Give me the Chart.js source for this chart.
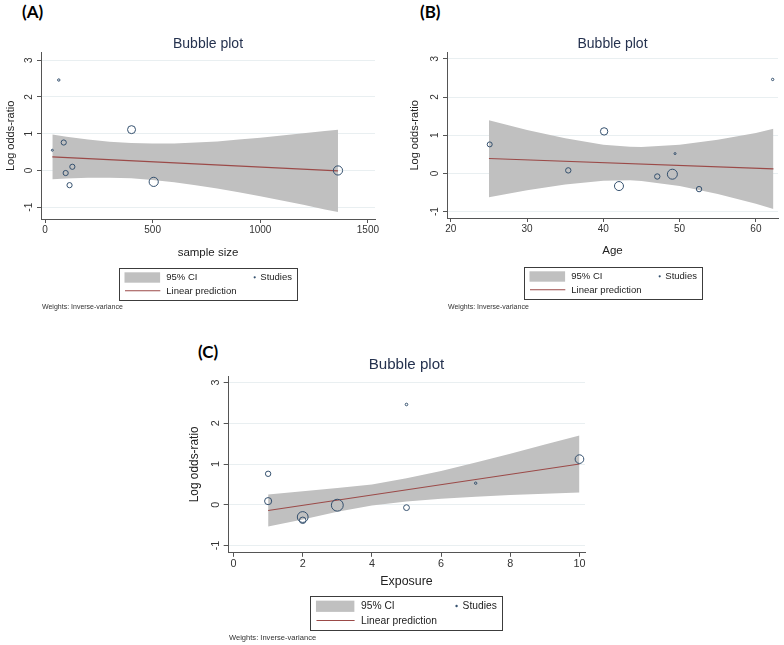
<!DOCTYPE html>
<html>
<head>
<meta charset="utf-8">
<script src="https://cdn.jsdelivr.net/npm/chart.js@4.4.1/dist/chart.umd.min.js"></script>
<style>
  body { margin: 0; background: #fff; width: 784px; height: 645px; position: relative; overflow: hidden; }
  canvas { position: absolute; }
  .tag { position: absolute; font: 700 17px Lato, "Open Sans", sans-serif; line-height: 17px; color: #000; }
</style>
</head>
<body>
<div class="tag" style="left:22px;top:3px">(A)</div>
<div class="tag" style="left:420px;top:3px">(B)</div>
<div class="tag" style="left:198px;top:343px">(C)</div>
<canvas id="chartA" width="390" height="290" style="left:0;top:30px"></canvas>
<canvas id="chartB" width="394" height="290" style="left:390px;top:30px"></canvas>
<canvas id="chartC" width="420" height="305" style="left:180px;top:340px"></canvas>
<script>
// tick labels
const yTicks = [-1, 0, 1, 2, 3];
const xTicksA = [0, 500, 1000, 1500];
const xTicksB = [20, 30, 40, 50, 60];
const xTicksC = [0, 2, 4, 6, 8, 10];

// (A) sample size
const studiesAX = [34, 64, 87, 96, 114, 127, 402, 505, 1361];
const studiesAY = [0.55, 2.46, 0.76, -0.07, -0.40, 0.10, 1.11, -0.31, 0.00];
const weightsA = [1, 1.2, 2.6, 2.6, 2.6, 2.6, 4, 4.6, 4.6];
const lineAX = [34, 1361];
const lineAY = [0.37, -0.01];
const ciAX = [34, 100, 200, 300, 400, 500, 600, 700, 800, 900, 1000, 1100, 1200, 1300, 1361];
const ciAUp = [0.98, 0.92, 0.84, 0.78, 0.75, 0.73, 0.73, 0.76, 0.79, 0.84, 0.89, 0.95, 1.01, 1.07, 1.11];
const ciALo = [-0.24, -0.22, -0.20, -0.20, -0.21, -0.26, -0.32, -0.40, -0.49, -0.59, -0.70, -0.82, -0.93, -1.06, -1.13];

// (B) age
const studiesBX = [25.1, 35.4, 40.1, 42.05, 47.07, 49.05, 49.4, 52.55, 62.2];
const studiesBY = [0.76, 0.08, 1.10, -0.33, -0.08, -0.02, 0.52, -0.41, 2.46];
const weightsB = [2.5, 2.7, 3.7, 4.5, 2.7, 5, 1, 2.7, 1.2];
const lineBX = [25, 62.3];
const lineBY = [0.39, 0.12];
const ciBX = [25, 30, 35, 40, 43.5, 45, 50, 55, 60, 62.3];
const ciBUp = [1.39, 1.14, 0.92, 0.75, 0.70, 0.69, 0.75, 0.88, 1.06, 1.17];
const ciBLo = [-0.62, -0.44, -0.29, -0.19, -0.18, -0.20, -0.33, -0.54, -0.79, -0.93];

// (C) exposure
const studiesCX = [1, 1, 2, 2, 3, 5, 5, 7, 10];
const studiesCY = [0.76, 0.09, -0.30, -0.38, -0.01, 2.46, -0.07, 0.53, 1.12];
const weightsC = [2.5, 3.3, 5, 3, 5.5, 1.2, 2.7, 1.1, 4];
const lineCX = [1, 10];
const lineCY = [-0.14, 1.0];
const ciCX = [1, 2, 3, 4, 5, 6, 7, 8, 9, 10];
const ciCUp = [0.25, 0.33, 0.41, 0.50, 0.65, 0.83, 1.04, 1.25, 1.48, 1.70];
const ciCLo = [-0.53, -0.36, -0.17, -0.02, 0.08, 0.15, 0.20, 0.24, 0.27, 0.30];

const FONT = '"Liberation Sans", Arial, sans-serif';
const AXIS = '#555';
const pts = (xs, ys) => xs.map((x, i) => ({ x, y: ys[i] }));

// Stata-style boxed legend + weights note, drawn under the x axis
const stataLegend = {
  id: 'stataLegend',
  afterDraw(chart, args, o) {
    const { ctx, chartArea } = chart;
    const s = o.scale;
    const ds = chart.data.datasets;
    const w = 178 * s, h = 31.5 * s;
    const left = Math.round((chartArea.left + chartArea.right) / 2 - w / 2);
    const top = Math.round(chartArea.bottom + o.top * s);
    ctx.save();
    ctx.strokeStyle = '#3c3c3c';
    ctx.lineWidth = 1;
    ctx.strokeRect(left + 0.5, top + 0.5, Math.round(w), Math.round(h));
    ctx.fillStyle = ds[2].backgroundColor;
    ctx.fillRect(left + 5.5 * s, top + 4.3 * s, 35.6 * s, 10.4 * s);
    ctx.strokeStyle = ds[1].borderColor;
    ctx.lineWidth = ds[1].borderWidth;
    ctx.beginPath();
    ctx.moveTo(left + 6 * s, top + 22.7 * s);
    ctx.lineTo(left + 41.3 * s, top + 22.7 * s);
    ctx.stroke();
    ctx.fillStyle = ds[0].pointBorderColor;
    ctx.beginPath();
    ctx.arc(left + 135.7 * s, top + 9.3 * s, 1.1 * s, 0, Math.PI * 2);
    ctx.fill();
    ctx.fillStyle = '#222';
    ctx.font = (9.5 * s) + 'px ' + FONT;
    ctx.textBaseline = 'middle';
    ctx.fillText(ds[2].label, left + 47.3 * s, top + 9.5 * s);
    ctx.fillText(ds[0].label, left + 141.3 * s, top + 9.5 * s);
    ctx.fillText(ds[1].label, left + 47.3 * s, top + 22.9 * s);
    ctx.font = (7 * s) + 'px ' + FONT;
    ctx.fillStyle = '#333';
    ctx.fillText(o.note, chartArea.left + 1, chartArea.bottom + o.noteY * s);
    ctx.restore();
  }
};

function makePanel(id, p) {
  const s = p.scale;
  new Chart(document.getElementById(id), {
    type: 'scatter',
    data: {
      datasets: [
        {
          label: 'Studies',
          data: pts(p.sx, p.sy),
          pointRadius: p.w.map(r => r * s),
          pointBorderColor: '#34506e',
          pointBackgroundColor: 'rgba(0,0,0,0)',
          pointBorderWidth: 1
        },
        {
          type: 'line',
          label: 'Linear prediction',
          data: pts(p.lx, p.ly),
          borderColor: '#9b4a48',
          borderWidth: 1.1,
          pointRadius: 0,
          fill: false
        },
        {
          type: 'line',
          label: '95% CI',
          data: pts(p.cx, p.cu),
          borderColor: 'rgba(0,0,0,0)',
          borderWidth: 0,
          backgroundColor: '#c0c0c0',
          pointRadius: 0,
          fill: '+1'
        },
        {
          type: 'line',
          label: 'CI lower',
          data: pts(p.cx, p.cl),
          borderColor: 'rgba(0,0,0,0)',
          borderWidth: 0,
          pointRadius: 0,
          fill: false
        }
      ]
    },
    options: {
      responsive: false,
      animation: false,
      events: [],
      layout: { padding: p.pad },
      scales: {
        x: {
          min: p.xMin, max: p.xMax,
          afterBuildTicks: sc => { sc.ticks = p.xt.map(v => ({ value: v })); },
          afterFit: sc => { sc.height = p.xH; },
          ticks: { color: '#333', padding: 1, callback: v => String(v), font: { family: FONT, size: 10 * s }, maxRotation: 0 },
          grid: { drawOnChartArea: false, tickColor: AXIS, tickLength: 4 * s },
          border: { color: AXIS, width: 1 },
          title: { display: true, text: p.xTitle, color: '#222', padding: { top: 0, bottom: 0 }, font: { family: FONT, size: 11.5 * s } }
        },
        y: {
          min: p.yMin, max: p.yMax,
          afterBuildTicks: sc => { sc.ticks = yTicks.map(v => ({ value: v })); },
          afterFit: sc => { sc.width = p.yW; },
          ticks: { color: '#333', padding: 3, minRotation: 90, maxRotation: 90, crossAlign: 'center', callback: v => String(v), font: { family: FONT, size: 10 * s } },
          grid: { color: '#e9eff1', tickColor: AXIS, tickLength: 4 * s },
          border: { color: AXIS, width: 1 },
          title: { display: true, text: 'Log odds-ratio', color: '#222', padding: { top: 4, bottom: 4 }, font: { family: FONT, size: 11 * s } }
        }
      },
      plugins: {
        legend: { display: false },
        tooltip: { enabled: false },
        title: {
          display: true, fullSize: false, text: 'Bubble plot', color: '#25324f',
          padding: p.titlePad, font: { family: FONT, size: 14 * s, weight: 'normal' }
        },
        stataLegend: { scale: s, top: p.legTop, noteY: p.noteY, note: 'Weights: Inverse-variance' }
      }
    },
    plugins: [stataLegend]
  });
}

makePanel('chartA', {
  scale: 1, sx: studiesAX, sy: studiesAY, w: weightsA, lx: lineAX, ly: lineAY,
  cx: ciAX, cu: ciAUp, cl: ciALo, xt: xTicksA, xTitle: 'sample size',
  xMin: -18.6, xMax: 1533, yMin: -1.32, yMax: 3.2,
  pad: { left: 0, right: 15, top: 0, bottom: 60 }, yW: 41, xH: 41,
  titlePad: { top: 6, bottom: 0 }, legTop: 49, noteY: 88
});
makePanel('chartB', {
  scale: 1, sx: studiesBX, sy: studiesBY, w: weightsB, lx: lineBX, ly: lineBY,
  cx: ciBX, cu: ciBUp, cl: ciBLo, xt: xTicksB, xTitle: 'Age',
  xMin: 19.5, xMax: 62.9, yMin: -1.166, yMax: 3.157,
  pad: { left: 14, right: 2, top: 0, bottom: 62 }, yW: 43, xH: 40,
  titlePad: { top: 6, bottom: 0 }, legTop: 49, noteY: 89
});
makePanel('chartC', {
  scale: 1.08, sx: studiesCX, sy: studiesCY, w: weightsC, lx: lineCX, ly: lineCY,
  cx: ciCX, cu: ciCUp, cl: ciCLo, xt: xTicksC, xTitle: 'Exposure',
  xMin: -0.16, xMax: 10.16, yMin: -1.17, yMax: 3.155,
  pad: { left: 4, right: 15, top: 0, bottom: 56 }, yW: 44, xH: 36.5,
  titlePad: { top: 16, bottom: 2 }, legTop: 40, noteY: 79
});
</script>
</body>
</html>
